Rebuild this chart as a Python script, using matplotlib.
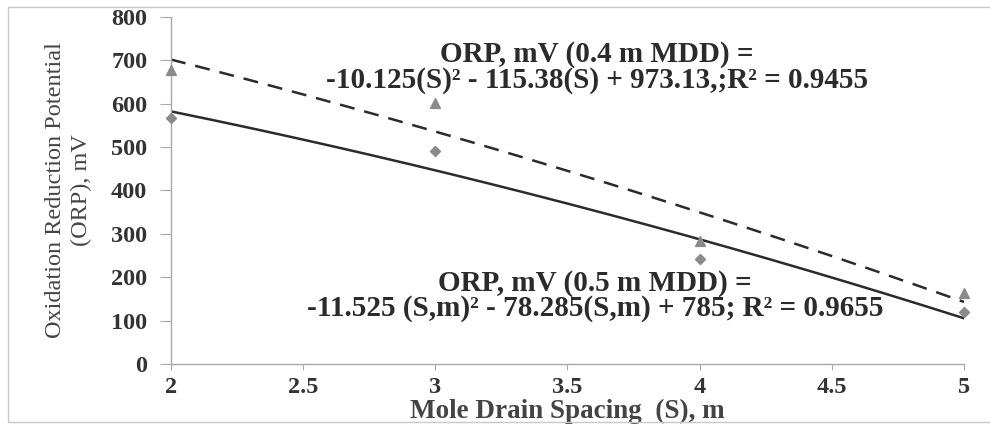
import numpy as np
import matplotlib.pyplot as plt
from matplotlib.patches import Rectangle

# -------------------------------
# Data
# -------------------------------
spacing = [2, 3, 4, 5]                 # mole drain spacing S, m
orp_05 = [568, 491, 242, 120]           # 0.5 m MDD (diamonds)
orp_04 = [678, 602, 283, 164]           # 0.4 m MDD (triangles)

# quadratic trend lines as printed on the chart: a*S^2 + b*S + c
coef_05 = [-11.525, -78.285, 785.0]
coef_04 = [-10.125, -115.38, 973.13]

eq_04 = "ORP, mV (0.4 m MDD) =\n-10.125(S)² - 115.38(S) + 973.13,;R² = 0.9455"
eq_05 = "ORP, mV (0.5 m MDD) =\n-11.525 (S,m)² - 78.285(S,m) + 785; R² = 0.9655"

yticks = [0, 100, 200, 300, 400, 500, 600, 700, 800]
xticks = [2, 2.5, 3, 3.5, 4, 4.5, 5]

# -------------------------------
# Plot
# -------------------------------
plt.rcParams['font.family'] = ['Liberation Serif', 'DejaVu Serif']

fig = plt.figure(figsize=(9.9, 4.24), dpi=100)
ax = fig.add_axes([0.1727, 0.1415, 0.801, 0.8185])

s = np.linspace(2, 5, 200)
ax.plot(s, np.polyval(coef_05, s), color='#2b2b2b', lw=1.8)
ax.plot(s, np.polyval(coef_04, s), color='#2b2b2b', lw=1.8, dashes=(6, 4))

ax.scatter(spacing, orp_05, marker='D', s=26, color='#8a8a8a', zorder=3, clip_on=False)
ax.scatter(spacing, orp_04, marker='^', s=50, color='#8a8a8a', zorder=3, clip_on=False)

ax.set_xlim(2, 5)
ax.set_ylim(0, 800)
ax.set_xticks(xticks)
ax.set_xticklabels([f"{t:g}" for t in xticks])
ax.set_yticks(yticks)

for sp in ['top', 'right']:
    ax.spines[sp].set_visible(False)
for sp in ['left', 'bottom']:
    ax.spines[sp].set_color('#a8a8a8')
    ax.spines[sp].set_linewidth(1.0)

ax.tick_params(axis='y', length=8, color='#a8a8a8', pad=9)
ax.tick_params(axis='x', length=4, color='#a8a8a8', pad=5)
for lab in ax.get_xticklabels() + ax.get_yticklabels():
    lab.set_fontweight('bold')
    lab.set_fontsize(17.5)
    lab.set_color('#333333')

ax.set_xlabel("Mole Drain Spacing  (S), m", fontsize=19.5, fontweight='bold',
              color='#444444', labelpad=1)
ax.set_ylabel("Oxidation Reduction Potential\n(ORP), mV", fontsize=17.5,
              color='#444444', labelpad=14, linespacing=1.3)

ax.text(0.537, 0.855, eq_04, transform=ax.transAxes, ha='center', va='center',
        fontsize=21, fontweight='bold', color='#2b2b2b', linespacing=0.95)
ax.text(0.535, 0.195, eq_05, transform=ax.transAxes, ha='center', va='center',
        fontsize=21, fontweight='bold', color='#2b2b2b', linespacing=0.9)

# thin frame around the chart area
fig.patches.append(Rectangle((0.008, 0.005), 1.1, 0.978, transform=fig.transFigure,
                             fill=False, edgecolor='#c8c8c8', lw=1.0))

fig.savefig('out.png', dpi=100)
